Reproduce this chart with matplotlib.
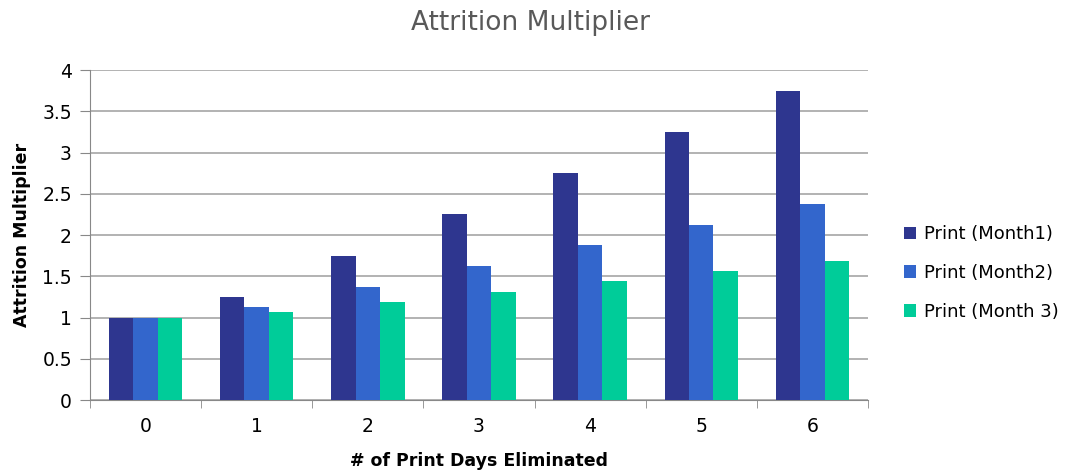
import matplotlib.pyplot as plt
import numpy as np

days = [0, 1, 2, 3, 4, 5, 6]
month1 = [1, 1.25, 1.75, 2.25, 2.75, 3.25, 3.75]
month2 = [1, 1.125, 1.375, 1.625, 1.875, 2.125, 2.375]
month3 = [1, 1.0625, 1.1875, 1.3125, 1.4375, 1.5625, 1.6875]
series_names = ['Print (Month1)', 'Print (Month2)', 'Print (Month 3)']
colors = ['#2E368F', '#3366CC', '#00CC99']

plt.rcParams['font.family'] = ['DejaVu Sans']

fig = plt.figure(figsize=(10.65, 4.74), dpi=100)
ax = fig.add_axes([0.0845, 0.156, 0.7305, 0.696])

x = np.arange(len(days))
w = 0.22
for i, (vals, name, c) in enumerate(zip([month1, month2, month3], series_names, colors)):
    ax.bar(x + (i - 1) * w, vals, width=w, color=c, label=name, zorder=3)

ax.set_xlim(-0.5, len(days) - 0.5)
ax.set_ylim(0, 4)
ax.set_yticks(np.arange(0, 4.01, 0.5))
ax.set_yticklabels(['0', '0.5', '1', '1.5', '2', '2.5', '3', '3.5', '4'])
ax.set_xticks(x)
ax.set_xticklabels([str(d) for d in days])
# ticks between the groups, like the category boundaries
ax.set_xticks(np.arange(-0.5, len(days), 1), minor=True)
ax.tick_params(axis='x', which='major', length=0, pad=12, labelsize=13.5)
ax.tick_params(axis='x', which='minor', length=6, color='#888888', direction='out')
ax.tick_params(axis='y', length=7, color='#888888', labelsize=13.5, pad=6)

ax.grid(axis='y', color='#A6A6A6', linewidth=1.2, zorder=0)
for s in ['top', 'right']:
    ax.spines[s].set_visible(False)
for s in ['left', 'bottom']:
    ax.spines[s].set_color('#888888')

ax.set_xlabel('# of Print Days Eliminated', fontsize=12.5, fontweight='bold', labelpad=12)
ax.set_ylabel('Attrition Multiplier', fontsize=12.5, fontweight='bold', labelpad=8)
fig.suptitle('Attrition Multiplier', x=0.498, y=0.978, fontsize=19, color='#595959')

ax.legend(loc='center left', bbox_to_anchor=(1.025, 0.385), frameon=False, fontsize=13,
          handlelength=0.7, handleheight=0.7, handletextpad=0.45, labelspacing=1.15)

fig.savefig('out.png', dpi=100)
